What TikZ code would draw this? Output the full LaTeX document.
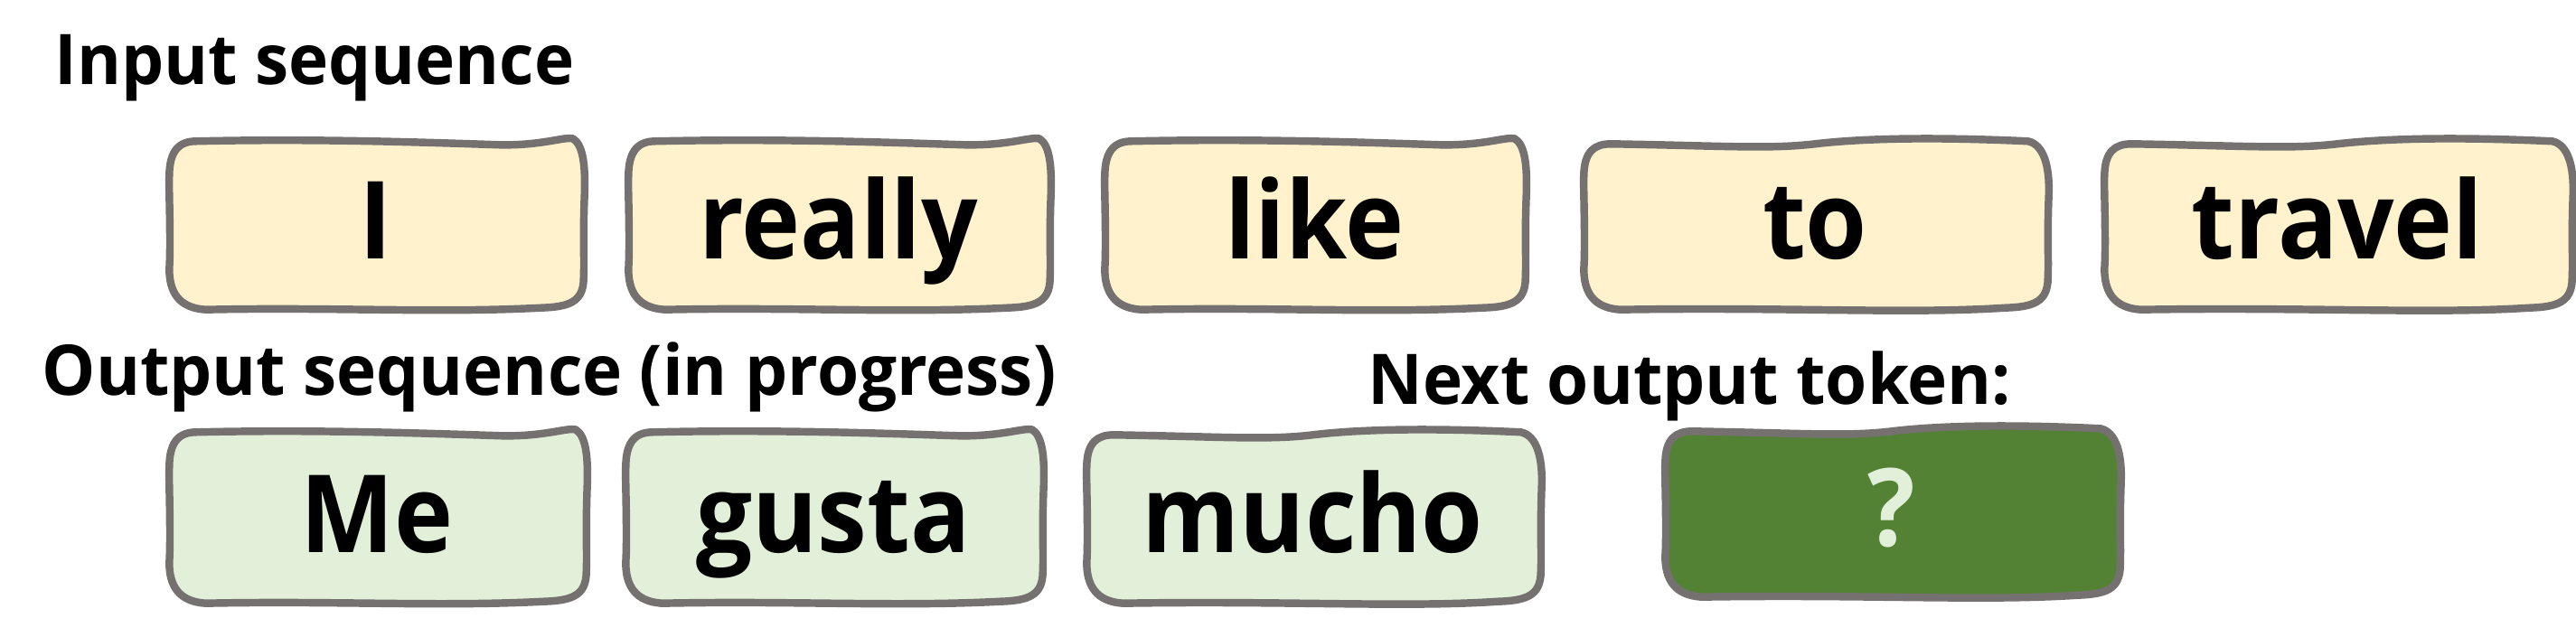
\documentclass[tikz,border=0pt]{standalone}
\usepackage{fontspec}
\setmainfont{Open Sans}
\newfontfamily\titlefont{Open Sans}[FakeStretch=0.965]
\newfontfamily\bigfont{Open Sans}[FakeStretch=0.92]
\usetikzlibrary{calc,backgrounds}
\definecolor{boxgray}{HTML}{767171}
\definecolor{tokyellow}{HTML}{FFF2CC}
\definecolor{toklight}{HTML}{E2F0D9}
\definecolor{tokdark}{HTML}{548235}
\tikzset{
  title/.style={anchor=base west, inner sep=0pt, font=\titlefont\fontsize{22}{26}\selectfont\bfseries},
  tokbox/.style={anchor=base, inner sep=0pt, font=\bigfont\fontsize{34}{40}\selectfont\bfseries},
  toprow/.style={tokbox, text height=1.31cm, text depth=0.55cm},
  botrow/.style={tokbox, text height=1.34cm, text depth=0.55cm},
  wob/.style={draw=boxgray, line width=2.4pt, line join=round, fill=#1}
}
% variant A: dip near the right of top edge, small ear at top right
\newcommand\wobA[2]{%
\path[wob=#2] let \p1=(#1.south west), \p2=(#1.north east) in
 ({\x1+0.3cm},{\y2-0.01cm})
 .. controls ({0.65*\x1+0.35*\x2},{\y2+0.02cm}) and ({0.4*\x1+0.6*\x2},{\y2-0.02cm}) .. ({0.2*\x1+0.8*\x2},{\y2-0.05cm})
 .. controls ({\x2-0.45cm},{\y2-0.06cm}) and ({\x2-0.2cm},{\y2+0.04cm}) .. ({\x2-0.1cm},{\y2+0.02cm})
 .. controls ({\x2+0.02cm},{\y2-0.05cm}) and ({\x2+0.04cm},{\y2-0.3cm}) .. ({\x2+0.03cm},{\y2-0.6cm})
 .. controls ({\x2+0.01cm},{0.6*\y1+0.4*\y2}) and ({\x2+0.03cm},{\y1+0.6cm}) .. ({\x2+0.02cm},{\y1+0.35cm})
 .. controls ({\x2+0.02cm},{\y1+0.08cm}) and ({\x2-0.15cm},{\y1+0.03cm}) .. ({\x2-0.45cm},{\y1+0.02cm})
 .. controls ({0.35*\x1+0.65*\x2},{\y1-0.04cm}) and ({0.6*\x1+0.4*\x2},{\y1+0.03cm}) .. ({\x1+0.4cm},{\y1})
 .. controls ({\x1+0.1cm},{\y1+0.02cm}) and ({\x1},{\y1+0.2cm}) .. ({\x1},{\y1+0.45cm})
 .. controls ({\x1+0.02cm},{0.6*\y1+0.4*\y2}) and ({\x1-0.01cm},{0.2*\y1+0.8*\y2}) .. ({\x1},{\y2-0.4cm})
 .. controls ({\x1},{\y2-0.1cm}) and ({\x1+0.12cm},{\y2-0.01cm}) .. cycle;}
% variant B: top edge lower on the left half, higher on the right half
\newcommand\wobB[2]{%
\path[wob=#2] let \p1=(#1.south west), \p2=(#1.north east) in
 ({\x1+0.3cm},{\y2-0.04cm})
 .. controls ({0.7*\x1+0.3*\x2},{\y2-0.06cm}) and ({0.6*\x1+0.4*\x2},{\y2-0.1cm}) .. ({0.5*\x1+0.5*\x2},{\y2-0.04cm})
 .. controls ({0.4*\x1+0.6*\x2},{\y2+0.02cm}) and ({0.25*\x1+0.75*\x2},{\y2+0.04cm}) .. ({\x2-0.2cm},{\y2-0.01cm})
 .. controls ({\x2-0.02cm},{\y2-0.05cm}) and ({\x2+0.04cm},{\y2-0.3cm}) .. ({\x2+0.03cm},{\y2-0.6cm})
 .. controls ({\x2+0.01cm},{0.6*\y1+0.4*\y2}) and ({\x2+0.03cm},{\y1+0.6cm}) .. ({\x2+0.02cm},{\y1+0.35cm})
 .. controls ({\x2+0.02cm},{\y1+0.08cm}) and ({\x2-0.15cm},{\y1+0.03cm}) .. ({\x2-0.45cm},{\y1+0.02cm})
 .. controls ({0.3*\x1+0.7*\x2},{\y1-0.05cm}) and ({0.55*\x1+0.45*\x2},{\y1+0.03cm}) .. ({\x1+0.4cm},{\y1})
 .. controls ({\x1+0.1cm},{\y1+0.02cm}) and ({\x1},{\y1+0.2cm}) .. ({\x1},{\y1+0.45cm})
 .. controls ({\x1+0.02cm},{0.6*\y1+0.4*\y2}) and ({\x1-0.01cm},{0.2*\y1+0.8*\y2}) .. ({\x1},{\y2-0.4cm})
 .. controls ({\x1},{\y2-0.12cm}) and ({\x1+0.12cm},{\y2-0.04cm}) .. cycle;}
\begin{document}
\begin{tikzpicture}
\useasboundingbox (0,0) rectangle (28.5,-7.05);
% titles
\node[title] (tin) at (0.6,-0.94) {Input sequence};
\node[title] (tout) at (0.46,-4.38) {Output sequence (in progress)};
\node[title] (tnext) at (15.13,-4.48) {Next output token:};
% input tokens
\node[toprow, minimum width=4.55cm] (i1) at (4.155,-2.87) {I};
\node[toprow, minimum width=4.63cm] (i2) at (9.275,-2.87) {really};
\node[toprow, minimum width=4.62cm] (i3) at (14.54,-2.87) {like};
\node[toprow, minimum width=5.10cm] (i4) at (20.08,-2.87) {to};
\node[toprow, minimum width=5.14cm] (i5) at (25.86,-2.87) {travel};
% output tokens
\node[botrow, minimum width=4.58cm] (o1) at (4.17,-6.12) {Me};
\node[botrow, minimum width=4.58cm] (o2) at (9.22,-6.12) {gusta};
\node[botrow, minimum width=4.99cm] (o3) at (14.525,-6.12) {mucho};
\node[tokbox, text height=1.31cm, text depth=0.55cm, minimum width=5.00cm, text=toklight] (o4) at (20.93,-6.05) {?};
\begin{scope}[on background layer]
\wobA{i1}{tokyellow}
\wobA{i2}{tokyellow}
\wobA{i3}{tokyellow}
\wobB{i4}{tokyellow}
\wobB{i5}{tokyellow}
\wobA{o1}{toklight}
\wobA{o2}{toklight}
\wobB{o3}{toklight}
\wobB{o4}{tokdark}
\end{scope}
\end{tikzpicture}
\end{document}
